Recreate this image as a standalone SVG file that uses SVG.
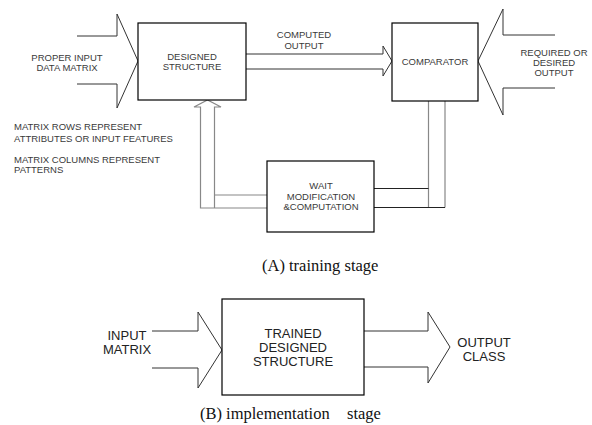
<svg xmlns="http://www.w3.org/2000/svg" width="592" height="425" viewBox="0 0 592 425">
<style>
.box{fill:#fff;stroke:#000;stroke-width:1.2}
.arr{fill:none;stroke:#333;stroke-width:1}
.gry{fill:none;stroke:#888;stroke-width:1.2}
.blk{fill:none;stroke:#222;stroke-width:1.1}
.s{font-family:"Liberation Sans",Arial,sans-serif;font-size:9.5px;fill:#3a3a3a;text-anchor:middle}
.sl{font-family:"Liberation Sans",Arial,sans-serif;font-size:9.5px;fill:#3a3a3a}
.b{font-family:"Liberation Sans",Arial,sans-serif;font-size:13px;fill:#222;text-anchor:middle}
.cap{font-family:"Liberation Serif","Times New Roman",serif;font-size:16.5px;fill:#111}
</style>
<rect width="592" height="425" fill="#fff"/>
<g id="connectors">
  <path class="arr" d="M77,36 H117 V14 L138,61 L117,108 V84 H77"/>
  <path class="arr" d="M246,54 H383 V46 L392,61 L383,76 V69 H246"/>
  <path class="arr" d="M555,35 H503 V9 L478,61 L503,115 V88 H555"/>
  <path class="gry" d="M267,208 H200.5 V107 H194 L207.5,100 L221,107 H214.5 V208 M214.5,195 H267"/>
  <path class="gry" d="M428.5,101 V207.5 M445,101 V207.5"/>
  <path class="blk" d="M374,188.5 H428.5 M374,207.5 H445"/>
  <path class="arr" d="M152,331 H198 V312 L222,350 L198,388 V368 H152"/>
  <path class="arr" d="M364,331 H428 V312 L450,347 L428,383 V367 H364"/>
</g>
<g id="input-label">
  <text class="s" x="67" y="60.5">PROPER INPUT</text>
  <text class="s" x="67" y="70.5">DATA MATRIX</text>
</g>
<g id="designed-structure">
  <rect class="box" x="138" y="23" width="108" height="77"/>
  <text class="s" x="192" y="60">DESIGNED</text>
  <text class="s" x="192" y="70">STRUCTURE</text>
</g>
<g id="computed-output-label">
  <text class="s" x="304" y="37.5">COMPUTED</text>
  <text class="s" x="304" y="48.5">OUTPUT</text>
</g>
<g id="comparator">
  <rect class="box" x="392" y="23" width="86" height="78"/>
  <text class="s" x="435" y="65">COMPARATOR</text>
</g>
<g id="required-label">
  <text class="s" x="554" y="55.5">REQUIRED OR</text>
  <text class="s" x="554" y="65.5">DESIRED</text>
  <text class="s" x="554" y="75.5">OUTPUT</text>
</g>
<g id="notes">
  <text class="sl" x="14" y="129.5">MATRIX ROWS REPRESENT</text>
  <text class="sl" x="14" y="141.5">ATTRIBUTES OR INPUT FEATURES</text>
  <text class="sl" x="14" y="162.5">MATRIX COLUMNS REPRESENT</text>
  <text class="sl" x="14" y="172.5">PATTERNS</text>
</g>
<g id="wait-modification">
  <rect class="box" x="267" y="161" width="107" height="71"/>
  <text class="s" x="321" y="189">WAIT</text>
  <text class="s" x="321" y="199.5">MODIFICATION</text>
  <text class="s" x="321" y="210">&amp;COMPUTATION</text>
</g>
<text class="cap" x="262" y="270.5">(A) training stage</text>
<g id="input-matrix">
  <text class="b" x="127" y="340">INPUT</text>
  <text class="b" x="127" y="354">MATRIX</text>
</g>
<g id="trained-structure">
  <rect class="box" x="222" y="299" width="142" height="96"/>
  <text class="b" x="293" y="337.5">TRAINED</text>
  <text class="b" x="293" y="351.5">DESIGNED</text>
  <text class="b" x="293" y="365.5">STRUCTURE</text>
</g>
<g id="output-class">
  <text class="b" x="484" y="347">OUTPUT</text>
  <text class="b" x="484" y="361">CLASS</text>
</g>
<text class="cap" x="200" y="418.5">(B) implementation<tspan x="347">stage</tspan></text>
</svg>
